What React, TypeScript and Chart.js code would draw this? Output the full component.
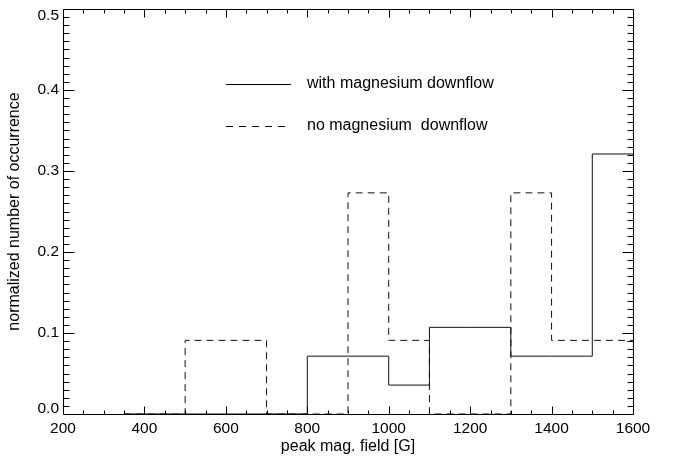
import React, { useEffect, useRef } from "react";
import { Chart, registerables } from "chart.js";

Chart.register(...registerables);

// ---- data ----
const binEdges = [350, 500, 600, 700, 800, 900, 1000, 1100, 1200, 1300, 1400, 1500, 1600];
const withDownflow = [0, 0, 0, 0, 0.0714, 0.0714, 0.0357, 0.107, 0.107, 0.0714, 0.0714, 0.321];
const noDownflow = [0, 0.0909, 0.0909, 0, 0, 0.273, 0.0909, 0, 0, 0.273, 0.0909, 0.0909];
const seriesLabels = ["with magnesium downflow", "no magnesium  downflow"];
const xTickValues = [200, 400, 600, 800, 1000, 1200, 1400, 1600];
const xTickLabels = ["200", "400", "600", "800", "1000", "1200", "1400", "1600"];
const yTickValues = [0, 0.1, 0.2, 0.3, 0.4, 0.5];
const yTickLabels = ["0.0", "0.1", "0.2", "0.3", "0.4", "0.5"];
const xMinorStep = 50;
const yMinorStep = 0.01;
const xTitle = "peak mag. field [G]";
const yTitle = "normalized number of occurrence";

const FONT = '"Liberation Sans", Arial, Helvetica, sans-serif';
const DASH = [7, 5];

function toSteps(values: number[]) {
  const pts = values.map((v, i) => ({ x: binEdges[i], y: v }));
  pts.push({ x: binEdges[binEdges.length - 1], y: values[values.length - 1] });
  return pts;
}

const axesPlugin = {
  id: "idlAxes",
  afterDraw(chart: any) {
    const { ctx, chartArea, scales } = chart;
    const { left, right, top, bottom } = chartArea;
    const xs = scales.x;
    const ys = scales.y;
    const r = (v: number) => Math.round(v) + 0.5;
    ctx.save();
    ctx.strokeStyle = "#000";
    ctx.fillStyle = "#000";
    ctx.lineWidth = 1;
    ctx.setLineDash([]);
    // box
    ctx.beginPath();
    ctx.rect(r(left), r(top), Math.round(right) - Math.round(left), Math.round(bottom) - Math.round(top));
    ctx.stroke();

    // x ticks
    ctx.beginPath();
    const xmin = xs.min, xmax = xs.max;
    for (let v = xmin; v <= xmax + 1e-6; v += xMinorStep) {
      const major = xTickValues.some((t) => Math.abs(t - v) < 1e-6);
      const len = major ? 8 : 4;
      const px = r(xs.getPixelForValue(v));
      ctx.moveTo(px, r(bottom));
      ctx.lineTo(px, r(bottom) - len);
      ctx.moveTo(px, r(top));
      ctx.lineTo(px, r(top) + len);
    }
    // y ticks
    const ymin = ys.min, ymax = ys.max;
    const n = Math.round((ymax - ymin) / yMinorStep);
    for (let i = 0; i <= n; i++) {
      const v = ymin + i * yMinorStep;
      const major = yTickValues.some((t) => Math.abs(t - v) < 1e-6);
      const len = major ? 11 : 6;
      const py = r(ys.getPixelForValue(v));
      ctx.moveTo(r(left), py);
      ctx.lineTo(r(left) + len, py);
      ctx.moveTo(r(right), py);
      ctx.lineTo(r(right) - len, py);
    }
    ctx.stroke();

    // tick labels
    ctx.font = `15.5px ${FONT}`;
    ctx.textAlign = "center";
    ctx.textBaseline = "middle";
    xTickValues.forEach((v, i) => {
      ctx.fillText(xTickLabels[i], xs.getPixelForValue(v), bottom + 15);
    });
    ctx.textAlign = "right";
    yTickValues.forEach((v, i) => {
      let py = ys.getPixelForValue(v);
      py = Math.max(top + 7, Math.min(bottom - 5, py));
      ctx.fillText(yTickLabels[i], left - 4, py);
    });

    // axis titles
    ctx.font = `16px ${FONT}`;
    ctx.textAlign = "center";
    ctx.fillText(xTitle, (left + right) / 2, bottom + 33);
    ctx.save();
    ctx.translate(15, (top + bottom) / 2);
    ctx.rotate(-Math.PI / 2);
    ctx.fillText(yTitle, 0, 0);
    ctx.restore();

    // legend
    const lx0 = 226, lx1 = 291, tx = 307;
    const ly = [84, 126];
    ctx.textAlign = "left";
    ctx.font = `16px ${FONT}`;
    for (let k = 0; k < 2; k++) {
      ctx.beginPath();
      ctx.setLineDash(k === 0 ? [] : [7, 6]);
      ctx.moveTo(lx0, r(ly[k]));
      ctx.lineTo(lx1, r(ly[k]));
      ctx.stroke();
      ctx.fillText(seriesLabels[k], tx, ly[k]);
    }
    ctx.restore();
  },
};

export default function App() {
  const ref = useRef<HTMLCanvasElement | null>(null);
  useEffect(() => {
    if (!ref.current) return;
    const chart = new Chart(ref.current, {
      type: "line",
      data: {
        datasets: [
          {
            label: seriesLabels[0],
            data: toSteps(withDownflow),
            borderColor: "#111",
            borderWidth: 1,
            stepped: true,
            pointRadius: 0,
            fill: false,
            clip: false,
          } as any,
          {
            label: seriesLabels[1],
            data: toSteps(noDownflow),
            borderColor: "#111",
            borderWidth: 1,
            borderDash: DASH,
            stepped: true,
            pointRadius: 0,
            fill: false,
            clip: false,
          } as any,
        ],
      },
      options: {
        animation: false,
        responsive: false,
        maintainAspectRatio: false,
        layout: { padding: { left: 63, right: 43, top: 9, bottom: 42 } },
        plugins: { legend: { display: false }, tooltip: { enabled: false } },
        scales: {
          x: { type: "linear", min: 200, max: 1600, display: false },
          y: { type: "linear", min: 0, max: 0.5, display: false },
        },
      },
      plugins: [axesPlugin],
    });
    return () => chart.destroy();
  }, []);
  return (
    <div style={{ position: "absolute", left: 0, top: 0, width: 676, height: 456, background: "#fff" }}>
      <canvas ref={ref} width={676} height={456} style={{ display: "block" }} />
    </div>
  );
}
